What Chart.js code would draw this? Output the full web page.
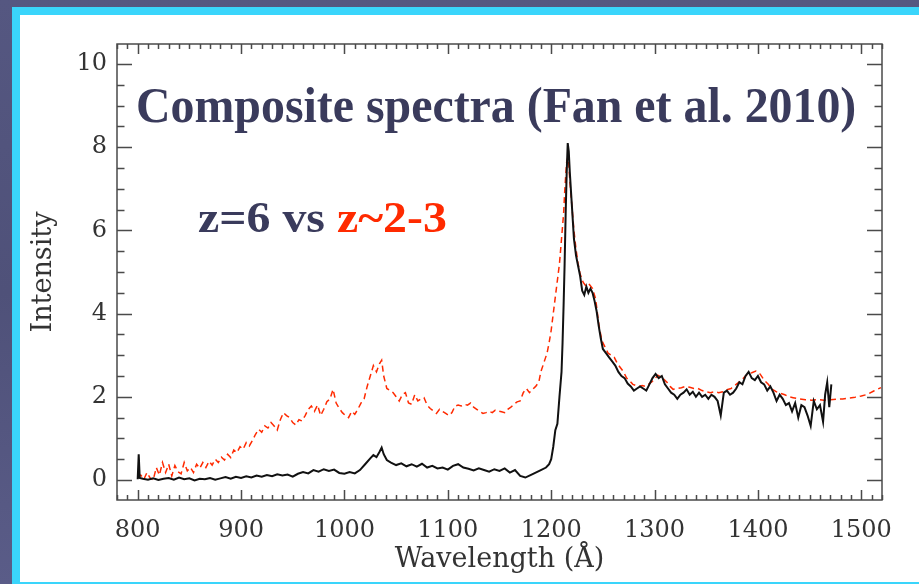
<!DOCTYPE html>
<html>
<head>
<meta charset="utf-8">
<script src="https://cdn.jsdelivr.net/npm/chart.js@4/dist/chart.umd.min.js"></script>
<style>
  html,body{margin:0;padding:0;}
  body{width:919px;height:584px;overflow:hidden;position:relative;
       background:linear-gradient(180deg,#555781 0%,#4f5179 50%,#5a5c88 100%);}
  #frame{position:absolute;left:12px;top:7px;width:907px;height:577px;background:#3ad5fb;}
  #panel{position:absolute;left:20px;top:15px;width:899px;height:567px;background:#ffffff;}
  #c{position:absolute;left:0;top:0;}
  .ttl{position:absolute;font-family:"Liberation Serif","Times New Roman",serif;font-weight:bold;
       color:#3a3b5c;white-space:nowrap;line-height:1;transform-origin:0 0;}
  #t1{left:136px;top:80px;font-size:50px;transform:scaleX(0.957);}
  #t2{left:198px;top:196px;font-size:44px;transform:scaleX(1.088);}
  #t2 span{color:#ff2a00;}
</style>
</head>
<body>
<div id="frame"></div>
<div id="panel"></div>
<canvas id="c" width="919" height="584"></canvas>
<div class="ttl" id="t1">Composite spectra (Fan et al. 2010)</div>
<div class="ttl" id="t2">z=6 vs <span>z~2-3</span></div>
<script>
// ---- tick labels ----
const xTickValues = [800, 900, 1000, 1100, 1200, 1300, 1400, 1500];
const yTickValues = [0, 2, 4, 6, 8, 10];
const xTitle = 'Wavelength (Å)';
const yTitle = 'Intensity';

// ---- z=6 composite (black, solid) ----
const z6Wave = [800,801,802,805,810,815,820,825,830,835,840,845,850,855,860,865,870,875,880,885,890,895,900,905,910,915,920,925,930,935,940,945,950,955,960,965,970,975,980,985,990,995,1000,1005,1010,1015,1020,1025,1028,1031,1034,1036,1038,1041,1045,1050,1055,1060,1065,1070,1075,1080,1085,1090,1095,1100,1105,1110,1115,1120,1125,1130,1135,1140,1145,1150,1155,1160,1165,1170,1175,1180,1185,1190,1195,1198,1200,1202,1204,1206,1208,1210,1211,1212,1213,1214,1215,1216,1217,1218,1220,1222,1224,1226,1228,1230,1232,1234,1236,1238,1240,1242,1244,1246,1248,1250,1253,1256,1259,1262,1265,1268,1271,1274,1277,1280,1283,1286,1289,1292,1295,1298,1301,1304,1307,1310,1313,1316,1319,1322,1325,1328,1331,1334,1337,1340,1343,1346,1349,1352,1355,1358,1361,1364,1367,1370,1373,1376,1379,1382,1385,1388,1391,1394,1397,1400,1403,1406,1409,1412,1415,1418,1421,1424,1427,1430,1433,1436,1439,1442,1445,1448,1451,1454,1457,1460,1463,1465,1467,1469,1471];
const z6Flux = [0.02,0.62,0.05,0.03,0.01,0.04,0.00,0.03,0.05,0.01,0.06,0.02,0.04,-0.01,0.03,0.02,0.05,0.01,0.04,0.07,0.03,0.08,0.05,0.09,0.06,0.11,0.08,0.12,0.09,0.14,0.11,0.13,0.08,0.15,0.19,0.16,0.24,0.20,0.26,0.22,0.25,0.17,0.15,0.19,0.16,0.24,0.38,0.52,0.60,0.55,0.68,0.78,0.62,0.48,0.42,0.36,0.40,0.33,0.38,0.32,0.39,0.30,0.34,0.28,0.30,0.25,0.34,0.38,0.30,0.27,0.23,0.28,0.24,0.20,0.26,0.22,0.28,0.18,0.24,0.10,0.06,0.12,0.18,0.24,0.30,0.38,0.50,0.80,1.20,1.35,2.00,2.60,3.30,4.20,5.20,6.40,7.40,8.10,7.90,7.40,6.60,5.80,5.40,5.15,4.90,4.55,4.45,4.65,4.50,4.60,4.50,4.30,4.05,3.70,3.40,3.15,3.05,2.95,2.85,2.75,2.60,2.50,2.45,2.32,2.25,2.15,2.20,2.25,2.20,2.15,2.30,2.45,2.55,2.45,2.50,2.30,2.20,2.10,2.05,1.95,2.05,2.10,2.18,2.05,2.12,2.00,2.10,2.00,2.05,1.95,2.05,2.00,1.90,1.55,2.10,2.15,2.05,2.10,2.20,2.35,2.30,2.50,2.60,2.45,2.40,2.50,2.35,2.30,2.15,2.25,2.10,1.90,2.05,1.95,1.80,1.85,1.65,1.85,1.50,1.80,1.75,1.55,1.30,1.90,1.70,1.80,1.40,2.05,2.35,1.75,2.30];

// ---- z~2-3 composite (red, dashed) ----
const z23Wave = [800,803,806,809,812,815,818,821,824,827,830,833,836,839,842,845,848,851,854,857,860,863,866,869,872,875,878,881,884,887,890,893,896,899,902,905,908,911,914,917,920,923,926,929,932,935,938,941,944,947,950,953,956,959,962,965,968,971,974,977,980,983,986,989,992,995,998,1001,1004,1007,1010,1013,1016,1019,1022,1025,1028,1031,1034,1036,1038,1041,1044,1047,1050,1053,1056,1059,1062,1065,1068,1071,1074,1077,1080,1083,1086,1089,1092,1095,1098,1101,1104,1107,1110,1113,1116,1119,1122,1125,1128,1131,1134,1137,1140,1143,1146,1149,1152,1155,1158,1161,1164,1167,1170,1173,1176,1179,1182,1185,1188,1190,1192,1194,1196,1198,1200,1202,1204,1206,1208,1210,1212,1213,1214,1215,1216,1217,1218,1220,1222,1224,1226,1228,1231,1234,1237,1240,1243,1246,1249,1252,1255,1258,1261,1264,1267,1270,1273,1276,1279,1282,1285,1288,1291,1294,1297,1300,1303,1306,1309,1312,1315,1318,1322,1326,1330,1334,1338,1342,1346,1350,1354,1358,1362,1366,1370,1374,1378,1382,1386,1390,1394,1398,1402,1406,1410,1414,1418,1422,1426,1430,1434,1440,1446,1452,1458,1464,1470,1476,1482,1488,1494,1500,1506,1512,1519];
const z23Flux = [0.05,0.12,0.02,0.18,0.05,0.00,0.30,0.12,0.42,0.18,0.38,0.10,0.35,0.20,0.15,0.42,0.22,0.30,0.18,0.38,0.28,0.42,0.30,0.45,0.36,0.50,0.42,0.55,0.48,0.62,0.54,0.72,0.66,0.80,0.74,0.90,0.82,0.95,1.10,1.22,1.15,1.30,1.25,1.38,1.30,1.20,1.45,1.62,1.55,1.50,1.38,1.32,1.45,1.42,1.55,1.70,1.78,1.65,1.80,1.55,1.70,1.88,1.95,2.18,1.85,1.72,1.62,1.55,1.50,1.65,1.58,1.70,1.85,1.95,2.25,2.50,2.75,2.60,2.80,2.88,2.50,2.20,2.15,2.10,2.00,1.90,2.05,2.10,1.85,1.82,2.05,1.90,1.95,1.98,1.80,1.72,1.66,1.60,1.70,1.65,1.60,1.55,1.62,1.78,1.80,1.78,1.82,1.80,1.85,1.75,1.70,1.65,1.60,1.62,1.65,1.62,1.68,1.66,1.64,1.62,1.70,1.75,1.82,1.88,1.90,2.10,2.20,2.10,2.18,2.25,2.35,2.60,2.75,2.90,3.05,3.30,3.60,4.00,4.40,4.80,5.20,5.80,6.40,6.90,7.30,7.65,7.75,7.60,7.20,6.60,6.00,5.55,5.20,4.95,4.75,4.65,4.70,4.60,4.35,3.75,3.35,3.20,3.05,3.00,2.95,2.80,2.70,2.60,2.45,2.38,2.30,2.27,2.25,2.27,2.25,2.30,2.35,2.42,2.52,2.48,2.42,2.35,2.25,2.18,2.20,2.22,2.25,2.23,2.20,2.20,2.15,2.12,2.10,2.12,2.10,2.12,2.17,2.20,2.28,2.36,2.45,2.55,2.58,2.62,2.55,2.40,2.30,2.18,2.12,2.08,2.05,2.00,1.98,1.95,1.93,1.92,1.93,1.92,1.93,1.94,1.95,1.97,1.99,2.02,2.06,2.14,2.22];

const tickFont = {family:'"DejaVu Serif", serif', size:24};
const titleFont = {family:'"DejaVu Serif", serif', size:27};
const axisColor = '#333333';

const ioTicks = {
  id:'ioTicks',
  afterDatasetsDraw(chart){
    const {ctx, chartArea:a, scales:{x, y}} = chart;
    ctx.save();
    ctx.strokeStyle = '#4a4a4a';
    ctx.lineWidth = 1.5;
    ctx.beginPath();
    for (let v = Math.ceil(x.min/10)*10; v <= x.max; v += 10) {
      const px = Math.round(x.getPixelForValue(v)) + 0.5;
      const len = (v % 100 === 0) ? 10 : 5;
      ctx.moveTo(px, a.bottom); ctx.lineTo(px, a.bottom - len);
      ctx.moveTo(px, a.top); ctx.lineTo(px, a.top + len);
    }
    for (let k = Math.ceil(y.min*2); k <= Math.floor(y.max*2); k++) {
      const py = Math.round(y.getPixelForValue(k/2)) + 0.5;
      const len = (k % 4 === 0) ? 15 : 7.5;
      ctx.moveTo(a.left, py); ctx.lineTo(a.left + len, py);
      ctx.moveTo(a.right, py); ctx.lineTo(a.right - len, py);
    }
    ctx.stroke();
    ctx.strokeRect(a.left, a.top, a.right - a.left, a.bottom - a.top);
    ctx.restore();
  }
};

new Chart(document.getElementById('c'), {
  type:'line',
  data:{
    datasets:[
      {label:'z=6', data:z6Wave.map((w,i)=>({x:w, y:z6Flux[i]})),
       borderColor:'#111111', borderWidth:2, pointRadius:0, tension:0, fill:false},
      {label:'z~2-3', data:z23Wave.map((w,i)=>({x:w, y:z23Flux[i]})),
       borderColor:'#ff2a00', borderWidth:1.5, borderDash:[6,4], pointRadius:0, tension:0, fill:false}
    ]
  },
  options:{
    responsive:false, animation:false, devicePixelRatio:1,
    layout:{padding:{left:0, right:37, top:44, bottom:0}},
    plugins:{legend:{display:false}, tooltip:{enabled:false}, title:{display:false}},
    scales:{
      x:{type:'linear', min:780, max:1520,
         afterBuildTicks:s=>{s.ticks = xTickValues.map(v=>({value:v}));},
         afterFit:s=>{s.height = 84;},
         grid:{display:false, drawTicks:false}, border:{display:false},
         ticks:{font:tickFont, color:axisColor, padding:16, maxRotation:0, autoSkip:false,
                callback:v=>String(v)},
         title:{display:true, text:xTitle, font:titleFont, color:axisColor, padding:{top:0, bottom:8}}},
      y:{type:'linear', min:-0.48, max:10.48,
         afterBuildTicks:s=>{s.ticks = yTickValues.map(v=>({value:v}));},
         afterFit:s=>{s.width = 117;},
         grid:{display:false, drawTicks:false}, border:{display:false},
         ticks:{font:tickFont, color:axisColor, padding:10, autoSkip:false, callback:v=>String(v)},
         title:{display:true, text:yTitle, font:titleFont, color:axisColor, padding:{top:28, bottom:0}}}
    }
  },
  plugins:[ioTicks]
});
</script>
</body>
</html>
